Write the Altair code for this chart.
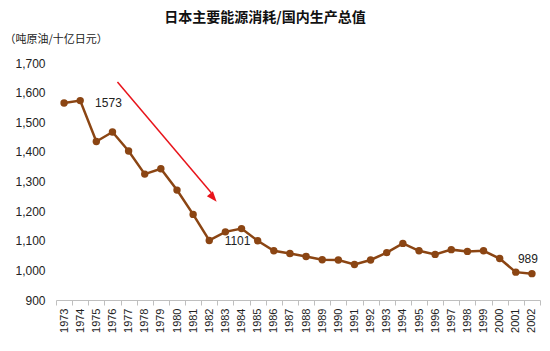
import altair as alt
import pandas as pd

years = [str(y) for y in range(1973, 2003)]
values = [1565, 1573, 1435, 1467, 1403, 1325, 1343, 1271, 1189, 1101,
          1130, 1141, 1100, 1066, 1057, 1047, 1036, 1035, 1020, 1035,
          1060, 1091, 1066, 1054, 1070, 1064, 1066, 1040, 994, 989]
y_ticks = [900, 1000, 1100, 1200, 1300, 1400, 1500, 1600, 1700]

label_years = ["1976", "1984", "2002"]
label_values = [1566, 1098, 1037]
label_texts = ["1573", "1101", "989"]

arrow_years = ["1976", "1982"]
arrow_values = [1636, 1262]

df = pd.DataFrame({"year": years, "value": values})
df_lab = pd.DataFrame({"year": label_years, "value": label_values, "text": label_texts})
df_arrow = pd.DataFrame({"year": [arrow_years[0]], "value": [arrow_values[0]],
                         "year2": [arrow_years[1]], "value2": [arrow_values[1]]})
df_head = pd.DataFrame({"year": [arrow_years[1]], "value": [1245]})

brown = "#8B4513"
font = "Liberation Sans"

x = alt.X("year:O", title=None, sort=years,
          axis=alt.Axis(labelAngle=-90, labelFont=font, labelFontSize=11, labelColor="#222",
                        tickBand="extent", domainColor="#BFBFBF", tickColor="#BFBFBF",
                        tickSize=5, labelPadding=3),
          scale=alt.Scale(domain=years, paddingInner=0, paddingOuter=0))
y = alt.Y("value:Q", title="（吨原油/十亿日元）",
          scale=alt.Scale(domain=[900, 1700], nice=False, zero=False),
          axis=alt.Axis(values=y_ticks, format=",.0f", domain=False, ticks=False,
                        grid=False, labelFont=font, labelFontSize=12, labelColor="#222",
                        labelOverlap=False, labelFlush=False, tickCount=9,
                        labelPadding=11, titleAngle=0, titleX=-52, titleY=-19, titleAlign="left",
                        titleFont="Noto Sans CJK SC", titleFontSize=11, titleFontWeight="normal",
                        titleColor="#222"))

line = alt.Chart(df).mark_line(color=brown, strokeWidth=2.5).encode(x=x, y=y)
pts = alt.Chart(df).mark_circle(color=brown, size=55, opacity=1).encode(x=x, y=y)

labels = alt.Chart(df_lab).mark_text(font=font, fontSize=12, color="#222", dx=-4).encode(
    x=x, y=y, text="text:N")

arrow = alt.Chart(df_arrow).mark_rule(color="#E8141B", strokeWidth=1.5, xOffset=5, x2Offset=2).encode(
    x=x, y=y, x2="year2:O", y2="value2:Q")
head = alt.Chart(df_head).mark_point(shape="M0,-1L0.75,1L-0.75,1Z", filled=True, color="#E8141B",
                                     size=110, angle=140, opacity=1, xOffset=4).encode(
    x=x, y=y)

chart = alt.layer(line, pts, labels, arrow, head).properties(
    width=484, height=237,
    title=alt.TitleParams("日本主要能源消耗/国内生产总值", font="Noto Sans CJK SC", fontSize=14,
                          fontWeight="bold", color="#111", anchor="middle", dx=-33, offset=8),
    autosize=alt.AutoSizeParams(type="none"),
    padding={"left": 56, "top": 63, "right": 10, "bottom": 51},
).configure_view(stroke=None)

chart.save("out.html", embed_options={"renderer": "svg", "actions": False})
